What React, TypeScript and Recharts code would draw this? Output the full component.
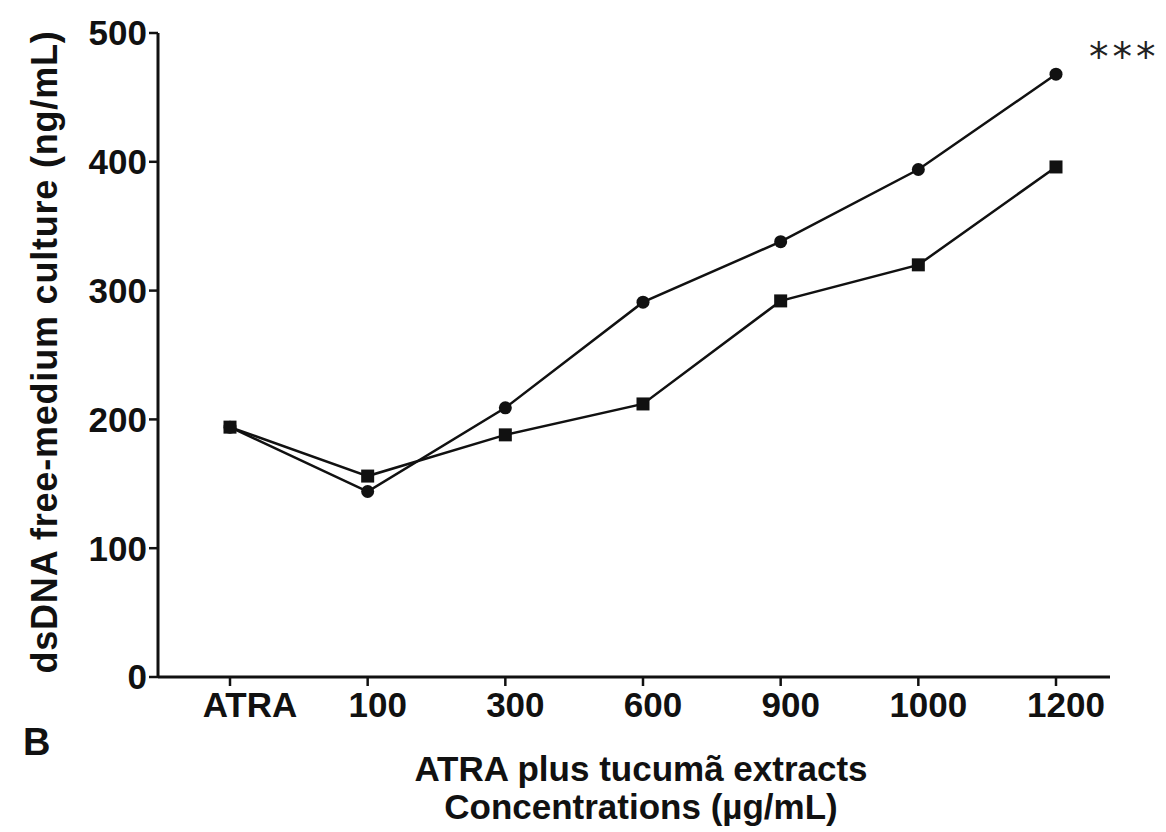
import React from "react";
import { LineChart, Line, XAxis, YAxis } from "recharts";

// concentrations (µg/mL) on the x axis
const categories = ["ATRA", "100", "300", "600", "900", "1000", "1200"];
// circles (upper curve)
const circleValues = [194, 144, 209, 291, 338, 394, 468];
// squares (lower curve)
const squareValues = [194, 156, 188, 212, 292, 320, 396];
const yTicks = [0, 100, 200, 300, 400, 500];

const data = categories.map((c, i) => ({
  conc: c,
  circle: circleValues[i],
  square: squareValues[i],
}));

const font = "'Liberation Sans', Arial, sans-serif";
const ink = "#111";

const SquareDot = (props: any) => {
  const { cx, cy } = props;
  if (cx == null || cy == null) return null;
  return <rect x={cx - 6.5} y={cy - 6.5} width={13} height={13} fill={ink} />;
};

const CircleDot = (props: any) => {
  const { cx, cy } = props;
  if (cx == null || cy == null) return null;
  return <circle cx={cx} cy={cy} r={6.5} fill={ink} />;
};

const tickStyle = {
  fontFamily: font,
  fontWeight: 700,
  fontSize: 35,
  fill: ink,
};

// labels in the original sit a little to the right of their tick marks
const XTick = (props: any) => {
  const { x, y, payload } = props;
  const shift = payload.value === "ATRA" ? 20 : 10;
  return (
    <text x={x + shift} y={y} dy="0.71em" textAnchor="middle" {...tickStyle}>
      {payload.value}
    </text>
  );
};

export default function App() {
  return (
    <div style={{ position: "absolute", left: 0, top: 0, width: 1166, height: 832, background: "#fff" }}>
      <LineChart
        width={1166}
        height={832}
        data={data}
        margin={{ top: 33, right: 56, bottom: 115, left: 58 }}
      >
        <XAxis
          dataKey="conc"
          height={40}
          padding={{ left: 72, right: 54 }}
          stroke={ink}
          axisLine={{ strokeWidth: 3 }}
          tickLine={{ strokeWidth: 2.5 }}
          tickSize={9}
          tickMargin={6}
          tick={<XTick />}
          interval={0}
        />
        <YAxis
          width={100}
          domain={[0, 500]}
          ticks={yTicks}
          stroke={ink}
          axisLine={{ strokeWidth: 3 }}
          tickLine={{ strokeWidth: 2.5 }}
          tickSize={9}
          tickMargin={2}
          tick={tickStyle}
          interval={0}
        />
        <Line
          dataKey="circle"
          stroke={ink}
          strokeWidth={2.5}
          dot={<CircleDot />}
          isAnimationActive={false}
        />
        <Line
          dataKey="square"
          stroke={ink}
          strokeWidth={2.5}
          dot={<SquareDot />}
          isAnimationActive={false}
        />
      </LineChart>

      {/* y axis title */}
      <div
        style={{
          position: "absolute",
          left: 45,
          top: 352,
          transform: "translate(-50%, -50%) rotate(-90deg)",
          whiteSpace: "nowrap",
          fontFamily: font,
          fontWeight: 700,
          fontSize: 36,
          letterSpacing: 0.8,
          lineHeight: "40px",
          color: ink,
        }}
      >
        dsDNA free-medium culture (ng/mL)
      </div>

      {/* x axis title */}
      <div
        style={{
          position: "absolute",
          left: 641,
          top: 750,
          transform: "translateX(-50%)",
          textAlign: "center",
          whiteSpace: "nowrap",
          fontFamily: font,
          fontWeight: 700,
          fontSize: 35,
          lineHeight: "38px",
          color: ink,
        }}
      >
        ATRA plus tucumã extracts
        <br />
        Concentrations (µg/mL)
      </div>

      {/* panel letter */}
      <div
        style={{
          position: "absolute",
          left: 23,
          top: 722,
          fontFamily: font,
          fontWeight: 700,
          fontSize: 38,
          lineHeight: "40px",
          color: ink,
        }}
      >
        B
      </div>

      {/* significance */}
      <div
        style={{
          position: "absolute",
          left: 1089,
          top: 37,
          fontFamily: "'DejaVu Sans', sans-serif",
          fontSize: 39,
          lineHeight: "39px",
          letterSpacing: 4,
          color: "#222",
        }}
      >
        ***
      </div>
    </div>
  );
}
